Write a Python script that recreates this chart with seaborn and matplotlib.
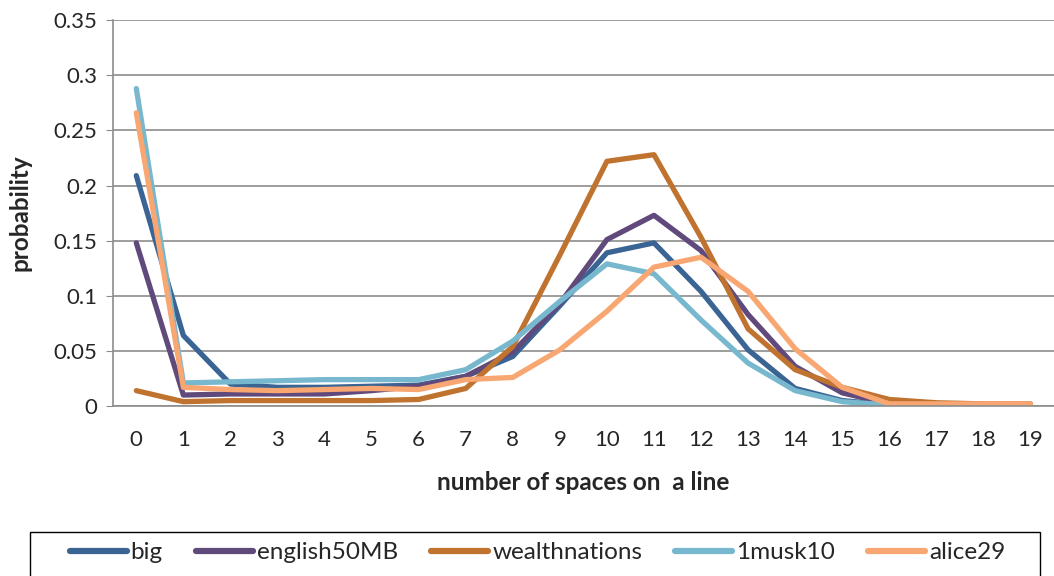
import numpy as np
import pandas as pd
import matplotlib
matplotlib.use("Agg")
import matplotlib.pyplot as plt
from matplotlib.patches import Rectangle
import seaborn as sns

spaces = list(range(20))

big = [0.209, 0.064, 0.020, 0.017, 0.017, 0.018, 0.019, 0.027, 0.045, 0.091,
       0.139, 0.148, 0.104, 0.051, 0.016, 0.005, 0.001, 0.001, 0.0005, 0.0003]
english50MB = [0.148, 0.010, 0.011, 0.011, 0.011, 0.014, 0.018, 0.027, 0.049, 0.093,
               0.151, 0.173, 0.141, 0.083, 0.036, 0.012, 0.002, 0.001, 0.001, 0.0005]
wealthnations = [0.014, 0.004, 0.005, 0.005, 0.005, 0.005, 0.006, 0.016, 0.054, 0.137,
                 0.222, 0.228, 0.153, 0.070, 0.033, 0.017, 0.006, 0.003, 0.002, 0.002]
musk10 = [0.288, 0.021, 0.022, 0.023, 0.024, 0.024, 0.024, 0.033, 0.059, 0.095,
          0.129, 0.120, 0.078, 0.039, 0.014, 0.004, 0.001, 0.0005, 0.0003, 0.0002]
alice29 = [0.266, 0.017, 0.015, 0.014, 0.015, 0.016, 0.015, 0.024, 0.026, 0.051,
           0.086, 0.126, 0.135, 0.104, 0.052, 0.017, 0.002, 0.002, 0.002, 0.002]

series = {
    "big": big,
    "english50MB": english50MB,
    "wealthnations": wealthnations,
    "1musk10": musk10,
    "alice29": alice29,
}
colors = ["#3A6494", "#604A7B", "#C0722F", "#78B8CE", "#F8A672"]

df = pd.concat(
    [pd.DataFrame({"spaces": spaces, "probability": v, "file": k}) for k, v in series.items()],
    ignore_index=True,
)

sns.set_style("white")
plt.rcParams["font.family"] = ["Lato", "DejaVu Sans"]

fig = plt.figure(figsize=(10.54, 5.76), dpi=100)
ax = fig.add_axes([0.107, 0.295, 0.893, 0.67])

sns.lineplot(data=df, x="spaces", y="probability", hue="file",
             palette=colors, linewidth=3.8, ax=ax, legend=True,
             solid_capstyle="round")

ax.set_xlim(-0.5, 19.5)
ax.set_ylim(0, 0.35)
ax.set_xticks(spaces)
ax.set_xticklabels([str(s) for s in spaces], fontsize=16)
yt = np.arange(0, 0.351, 0.05)
ax.set_yticks(yt)
ax.set_yticklabels(["0", "0.05", "0.1", "0.15", "0.2", "0.25", "0.3", "0.35"], fontsize=16)
ax.yaxis.grid(True, color="#8C8C8C", linewidth=1.2)
ax.xaxis.grid(False)
for side in ["top", "right"]:
    ax.spines[side].set_visible(False)
for side in ["left", "bottom"]:
    ax.spines[side].set_color("#8C8C8C")
    ax.spines[side].set_linewidth(1.2)
ax.tick_params(axis="y", which="major", length=5, color="#8C8C8C", left=True, pad=6)
ax.tick_params(axis="x", length=0, pad=17.5)

ax.set_xlabel("number of spaces on  a line", fontsize=17.5, fontweight="bold", labelpad=15)
ax.set_ylabel("probability", fontsize=17.5, fontweight="bold", labelpad=16)

handles, labels = ax.get_legend_handles_labels()
ax.get_legend().remove()
leg = fig.legend(handles, labels, ncol=5, loc="center",
                 bbox_to_anchor=(0.510, 0.04), frameon=False, fontsize=17.5,
                 handlelength=2.35, handletextpad=0.16, columnspacing=1.36,
                 borderaxespad=0)
for h in leg.get_lines():
    h.set_linewidth(4.5)

# legend box, open at the bottom edge of the figure
fig.patches.append(Rectangle((30 / 1054, -0.01), 1010 / 1054, (576 - 532) / 576 + 0.01,
                             transform=fig.transFigure, fill=False,
                             edgecolor="black", linewidth=1.0))

fig.savefig("out.png", dpi=100)
